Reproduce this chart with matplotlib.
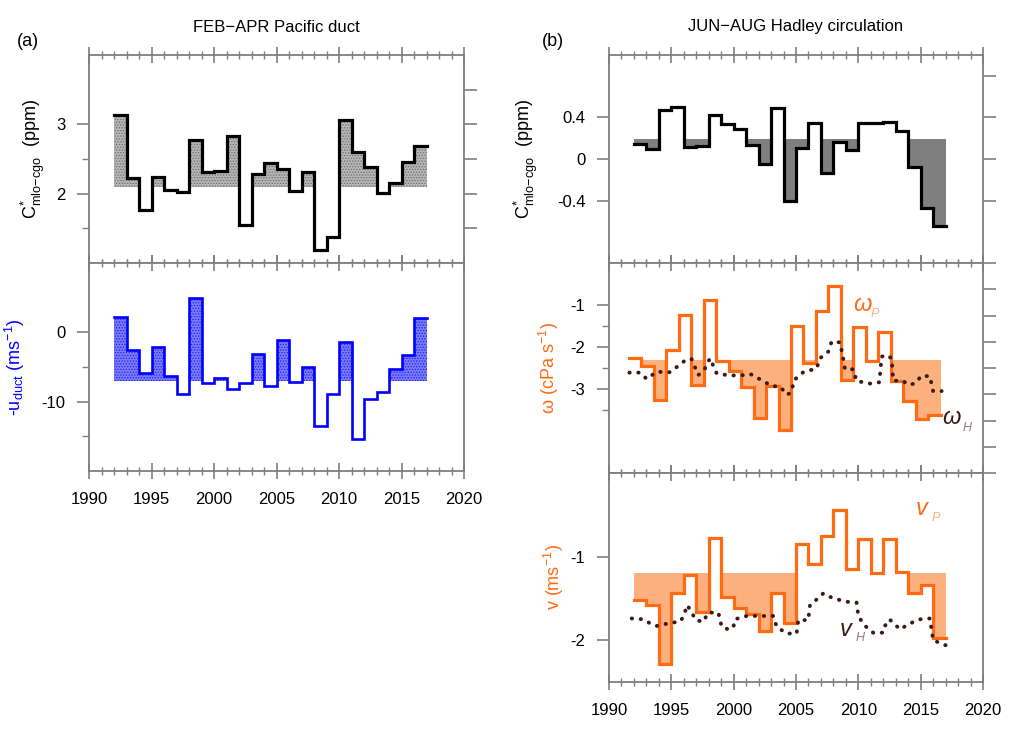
"""
Two-column figure: FEB-APR Pacific duct (a) and JUN-AUG Hadley circulation (b).
Annual step series with filled departures from a reference level.
"""

import numpy as np
import matplotlib
matplotlib.use("Agg")
import matplotlib.pyplot as plt
from matplotlib.ticker import MultipleLocator, NullFormatter

plt.rcParams["font.family"] = ["Liberation Sans", "DejaVu Sans"]
plt.rcParams["mathtext.fontset"] = "custom"
plt.rcParams["mathtext.rm"] = "Liberation Sans"
plt.rcParams["mathtext.it"] = "Liberation Sans:italic"
plt.rcParams["hatch.linewidth"] = 0.6

# ---- data ----
years = np.arange(1992, 2017)

c_duct = [3.14, 2.23, 1.77, 2.24, 2.05, 2.03, 2.77, 2.31, 2.33, 2.83, 1.55, 2.28, 2.44,
          2.36, 2.04, 2.31, 1.19, 1.38, 3.06, 2.60, 2.38, 2.01, 2.16, 2.46, 2.69]
c_duct_ref = 2.1

u_duct = [2.2, -2.6, -5.8, -2.05, -6.3, -8.85, 4.95, -7.3, -6.6, -8.2, -7.25, -3.1, -7.75,
          -1.15, -7.2, -5.05, -13.55, -8.9, -1.35, -15.45, -9.65, -8.6, -5.35, -3.2, 2.1]
u_duct_ref = -7.0

c_hadley = [0.14, 0.10, 0.47, 0.50, 0.12, 0.125, 0.42, 0.34, 0.29, 0.135, -0.045, 0.49, -0.40,
            0.11, 0.35, -0.13, 0.165, 0.085, 0.35, 0.345, 0.355, 0.27, -0.08, -0.475, -0.64]
c_hadley_ref = 0.19

omega_start = 1991.6
omega_p = [-2.27, -2.45, -3.27, -2.07, -1.24, -2.90, -0.87, -2.33, -2.56, -2.96, -3.69, -2.94,
           -3.98, -1.49, -2.39, -1.14, -0.55, -2.79, -1.52, -2.33, -1.64, -2.80, -3.28, -3.72, -3.63]
omega_ref = -2.30

omega_h_x = [1991.63, 1992.49, 1993.02, 1993.82, 1994.89, 1995.64, 1996.23, 1996.63, 1997.16,
             1997.70, 1998.10, 1998.64, 1999.70, 2000.77, 2001.31, 2002.37, 2003.05, 2003.71,
             2004.30, 2004.65, 2004.84, 2005.58, 2006.66, 2006.92, 2007.59, 2007.86, 2008.52,
             2008.74, 2008.93, 2009.59, 2009.86, 2010.93, 2011.68, 2011.87, 2012.27, 2012.67,
             2012.80, 2013.60, 2014.00, 2014.54, 2015.08, 2015.74, 2016.00, 2016.68]
omega_h = [-2.61, -2.61, -2.76, -2.59, -2.60, -2.43, -2.29, -2.29, -2.67, -2.51, -2.27, -2.63,
           -2.68, -2.67, -2.64, -2.81, -2.93, -2.94, -3.14, -3.06, -2.79, -2.60, -2.51, -2.27,
           -2.11, -1.87, -1.89, -2.19, -2.53, -2.53, -2.81, -2.87, -2.84, -2.23, -2.19, -2.27,
           -2.80, -2.81, -2.90, -2.87, -2.68, -2.70, -3.05, -3.05]

v_p = [-1.52, -1.58, -2.28, -1.44, -1.22, -1.66, -0.78, -1.48, -1.62, -1.69, -1.89, -1.44,
       -1.80, -0.85, -1.09, -0.75, -0.44, -1.15, -0.79, -1.20, -0.79, -1.19, -1.43, -1.34, -1.97]
v_ref = -1.20

v_h_x = [1991.82, 1992.75, 1993.42, 1993.82, 1995.03, 1995.69, 1995.96, 1996.28, 1996.98,
         1997.56, 1997.96, 1998.77, 1999.04, 1999.57, 1999.97, 2000.10, 2001.04, 2003.18,
         2003.45, 2004.25, 2005.05, 2005.18, 2005.98, 2006.12, 2006.92, 2007.19, 2007.99,
         2009.06, 2009.86, 2009.99, 2010.39, 2011.19, 2011.99, 2012.13, 2012.50, 2013.34,
         2014.14, 2014.94, 2015.74, 2016.00, 2017.00]
v_h = [-1.74, -1.75, -1.81, -1.83, -1.79, -1.78, -1.72, -1.58, -1.76, -1.78, -1.67, -1.67,
       -1.84, -1.87, -1.85, -1.75, -1.71, -1.71, -1.84, -1.92, -1.92, -1.76, -1.76, -1.58,
       -1.48, -1.44, -1.50, -1.54, -1.55, -1.70, -1.81, -1.91, -1.91, -1.83, -1.75, -1.87,
       -1.80, -1.75, -1.74, -2.00, -2.06]

FRAME = "#7f7f7f"
ORANGE = "#ff6a13"
LIGHT_ORANGE = "#fbb07e"
BROWN = "#3d1a1a"
LIGHT_BROWN = "#a07878"


def style_axes(ax, ylim, major, minor=None, right_ticks=None, xlabels=False):
    ax.set_xlim(1990, 2020)
    ax.set_ylim(*ylim)
    for s in ax.spines.values():
        s.set_color(FRAME)
        s.set_linewidth(1.3)
    ax.xaxis.set_major_locator(MultipleLocator(5))
    ax.xaxis.set_minor_locator(MultipleLocator(1))
    ax.tick_params(axis="x", which="both", direction="inout", top=True, bottom=True,
                   color=FRAME, labelsize=12, pad=9, labelbottom=xlabels)
    ax.tick_params(axis="x", which="major", length=12, width=1.2)
    ax.tick_params(axis="x", which="minor", length=6, width=1.0)
    ax.set_yticks(major)
    if minor is not None:
        ax.set_yticks(minor, minor=True)
    ax.tick_params(axis="y", which="both", direction="out", color=FRAME, labelsize=12,
                   left=True, right=False, pad=8)
    ax.tick_params(axis="y", which="major", length=9, width=1.2)
    ax.tick_params(axis="y", which="minor", length=5, width=1.0)
    ax.set_yticklabels([f"{t:g}" for t in major])
    if right_ticks is not None:
        tw = ax.twinx()
        tw.set_ylim(*right_ticks[0])
        tw.set_yticks(right_ticks[1])
        tw.yaxis.set_major_formatter(NullFormatter())
        tw.tick_params(axis="y", direction="out", length=9, width=1.2, color=FRAME)
        for s in tw.spines.values():
            s.set_visible(False)


def step_fill(ax, x0, vals, ref, line_color, fill_kw, below=True, lw=2.3):
    edges = x0 + np.arange(len(vals) + 1)
    v = np.append(vals, vals[-1])
    clipped = np.minimum(v, ref) if below else np.maximum(v, ref)
    ax.fill_between(edges, ref, clipped, step="post", linewidth=0, **fill_kw)
    ax.step(edges, v, where="post", color=line_color, lw=lw, solid_joinstyle="miter")


fig = plt.figure(figsize=(10.17, 7.43), dpi=100)

W_L, X_L = 375 / 1017, 89 / 1017
W_R, X_R = 374 / 1017, 609 / 1017

# ---- (a) ----
ax1 = fig.add_axes([X_L, 1 - 263 / 743, W_L, 208 / 743])
step_fill(ax1, 1992, c_duct, c_duct_ref, "black",
          dict(facecolor="#b5b5b5", edgecolor="#6e6e6e", hatch="......"), below=False)
style_axes(ax1, (1, 4), [2, 3], [1.5, 2.5], right_ticks=((1, 4), [1.5, 2, 2.5, 3, 3.5]))
ax1.set_ylabel(r"C$^{*}_{\mathrm{mlo\!-\!cgo}}$  (ppm)", fontsize=13)
ax1.yaxis.set_label_coords(-0.112, 0.5)

ax2 = fig.add_axes([X_L, 1 - 471 / 743, W_L, 208 / 743])
step_fill(ax2, 1992, u_duct, u_duct_ref, "#0000ff",
          dict(facecolor="#7a7aff", edgecolor="#2020ee", hatch="......"), below=False, lw=1.9)
style_axes(ax2, (-20, 10), [-10, 0], [-15, -5], xlabels=True)
ax2.set_ylabel(r"-u$_{\mathrm{duct}}$ (ms$^{-1}$)", fontsize=13, color="#0000ff")
ax2.yaxis.set_label_coords(-0.165, 0.5)

# ---- (b) ----
ax3 = fig.add_axes([X_R, 1 - 263 / 743, W_R, 208 / 743])
step_fill(ax3, 1992, c_hadley, c_hadley_ref, "black",
          dict(facecolor="#7f7f7f"), below=True)
style_axes(ax3, (-1, 1), [-0.4, 0, 0.4], right_ticks=((-1, 1), [-0.4, 0, 0.4, 0.8]))
ax3.set_ylabel(r"C$^{*}_{\mathrm{mlo\!-\!cgo}}$  (ppm)", fontsize=13)
ax3.yaxis.set_label_coords(-0.184, 0.5)

ax4 = fig.add_axes([X_R, 1 - 473 / 743, W_R, 210 / 743])
step_fill(ax4, omega_start, omega_p, omega_ref, ORANGE,
          dict(facecolor=LIGHT_ORANGE), below=True)
ax4.plot(omega_h_x, omega_h, color=BROWN, lw=2.8, linestyle=(0, (0.1, 2.2)),
         dash_capstyle="round")
style_axes(ax4, (-5, 0), [-3, -2, -1], [-3.5, -2.5, -1.5],
           right_ticks=((-4, 0), np.arange(-4, 0.01, 0.5)))
ax4.set_ylabel("\u03c9 (cPa s$^{-1}$)", fontsize=13, color=ORANGE)
ax4.yaxis.set_label_coords(-0.128, 0.5)
ax4.text(2009.55, -1.0, r"$\omega$", color=ORANGE, fontsize=17, va="center")
ax4.text(2011.0, -1.22, "P", color=LIGHT_ORANGE, fontsize=9, style="italic", va="center")
ax4.text(2016.75, -3.7, r"$\omega$", color=BROWN, fontsize=17, va="center")
ax4.text(2018.4, -3.92, "H", color=LIGHT_BROWN, fontsize=9, style="italic", va="center")

ax5 = fig.add_axes([X_R, 1 - 682 / 743, W_R, 209 / 743])
step_fill(ax5, 1992, v_p, v_ref, ORANGE, dict(facecolor=LIGHT_ORANGE), below=True)
ax5.plot(v_h_x, v_h, color=BROWN, lw=2.8, linestyle=(0, (0.1, 2.2)),
         dash_capstyle="round")
style_axes(ax5, (-2.5, 0), [-2, -1], xlabels=True)
ax5.set_ylabel(r"v (ms$^{-1}$)", fontsize=13, color=ORANGE)
ax5.yaxis.set_label_coords(-0.115, 0.5)
ax5.text(2014.6, -0.43, "v", color=ORANGE, fontsize=17, style="italic", va="center")
ax5.text(2015.85, -0.54, "P", color=LIGHT_ORANGE, fontsize=9, style="italic", va="center")
ax5.text(2008.5, -1.87, "v", color=BROWN, fontsize=17, style="italic", va="center")
ax5.text(2009.8, -1.97, "H", color=LIGHT_BROWN, fontsize=9, style="italic", va="center")

# titles and panel letters
fig.text(276 / 1017, 1 - 27 / 743, "FEB\u2212APR Pacific duct", ha="center", va="center",
         fontsize=12)
fig.text(796 / 1017, 1 - 27 / 743, "JUN\u2212AUG Hadley circulation", ha="center",
         va="center", fontsize=12)
fig.text(28 / 1017, 1 - 42 / 743, "(a)", ha="center", va="center", fontsize=13)
fig.text(553 / 1017, 1 - 42 / 743, "(b)", ha="center", va="center", fontsize=13)

fig.savefig("out.png", dpi=100)
